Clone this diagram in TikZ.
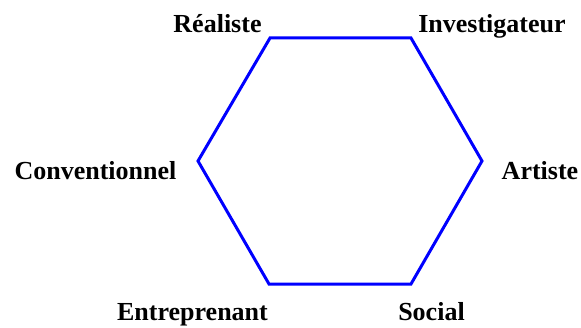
\documentclass[tikz,border=0pt]{standalone}
\usepackage{fontspec}
\setmainfont{Liberation Serif}
\begin{document}
\begin{tikzpicture}[x=1pt,y=1pt,
  lbl/.style={font=\fontsize{26}{28}\selectfont\bfseries, inner sep=0pt, anchor=base},
  hex/.style={draw=blue, line width=3pt, line join=miter}]
\useasboundingbox (0,0) rectangle (581,327);
\coordinate (R) at (270,289);
\coordinate (I) at (411,289);
\coordinate (A) at (482,166);
\coordinate (S) at (411,43);
\coordinate (E) at (269,43);
\coordinate (C) at (198,166);
\draw[hex] (R) -- (I) -- (A) -- (S) -- (E) -- (C) -- cycle;
\node[lbl] (lR) at (217.5,294) {Réaliste};
\node[lbl] (lI) at (492,294) {Investigateur};
\node[lbl] (lC) at (95.5,147) {Conventionnel};
\node[lbl] (lA) at (540,147) {Artiste};
\node[lbl] (lE) at (192.5,7) {Entreprenant};
\node[lbl] (lS) at (431.5,7) {Social};
\end{tikzpicture}
\end{document}
